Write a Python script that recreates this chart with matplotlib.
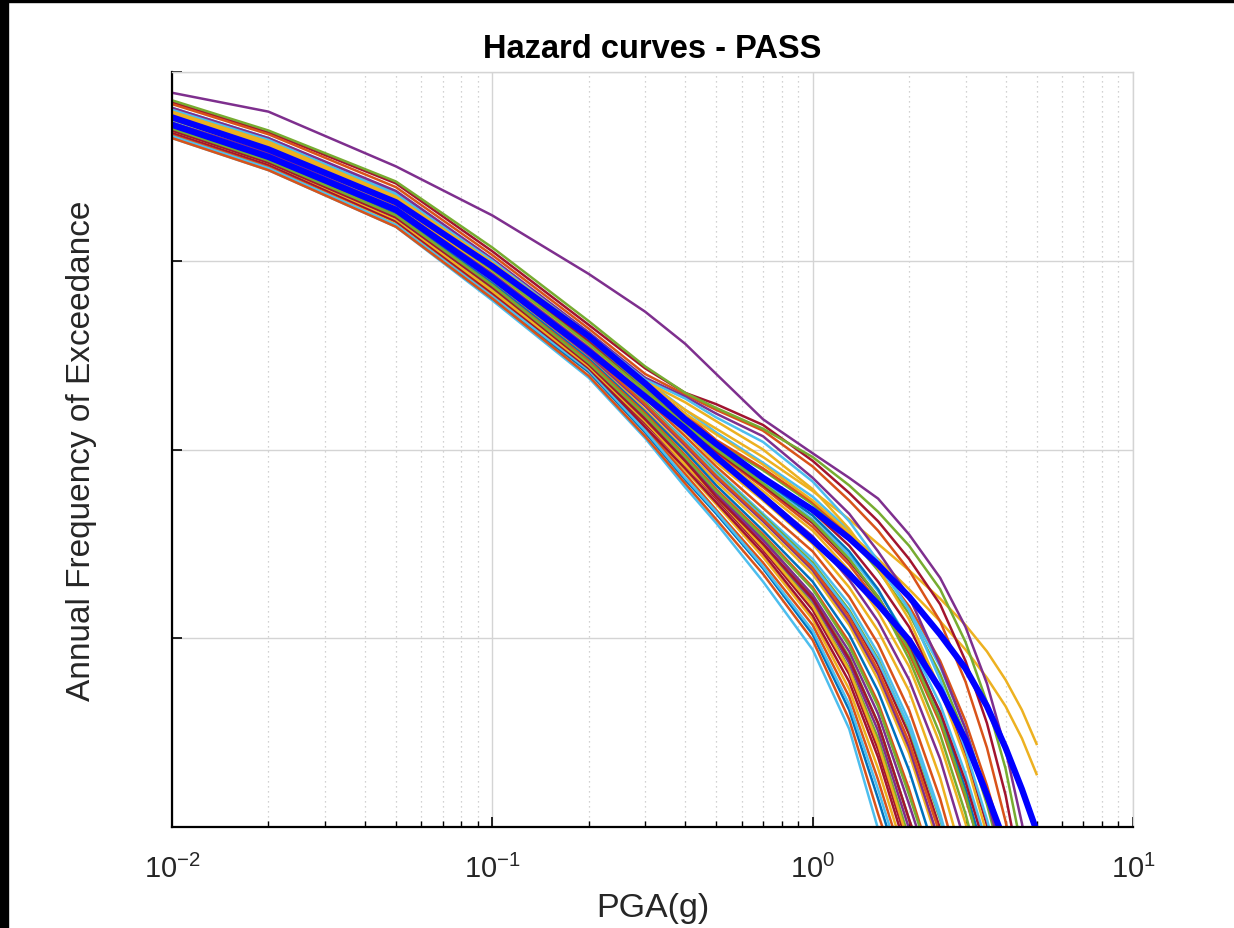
import numpy as np
import matplotlib
matplotlib.use("Agg")
import matplotlib.pyplot as plt
from matplotlib.patches import Rectangle
from matplotlib.ticker import NullLocator, LogLocator

plt.rcParams['font.family'] = ['Liberation Sans', 'DejaVu Sans']
plt.rcParams['mathtext.default'] = 'regular'

# PGA grid (g)
pga = [0.01, 0.02, 0.05, 0.1, 0.2, 0.3, 0.4, 0.5, 0.7, 1.0, 1.3, 1.6, 2.0, 2.5, 3.0, 3.5, 4.0, 4.5, 5.0]

# log10(annual frequency of exceedance) for each hazard curve
p_out = [-0.11, -0.21, -0.50, -0.76, -1.07, -1.27, -1.44, -1.60, -1.84, -2.02, -2.15, -2.26, -2.45, -2.68, -2.94, -3.24, -3.59, -3.98, -4.41]
k1 = [-0.16, -0.32, -0.59, -0.95, -1.34, -1.57, -1.70, -1.76, -1.87, -2.06, -2.23, -2.38, -2.58, -2.82, -3.12, -3.45, -3.83, -4.28]
k2 = [-0.17, -0.33, -0.61, -0.97, -1.36, -1.60, -1.71, -1.79, -1.90, -2.09, -2.27, -2.43, -2.64, -2.91, -3.23, -3.58, -3.97, -4.38]
k3 = [-0.15, -0.31, -0.58, -0.93, -1.32, -1.56, -1.70, -1.78, -1.89, -2.04, -2.19, -2.33, -2.51, -2.74, -3.02, -3.34, -3.69, -4.12]
k4 = [-0.19, -0.35, -0.63, -0.99, -1.38, -1.62, -1.72, -1.81, -1.93, -2.15, -2.34, -2.54, -2.78, -3.14, -3.48, -3.85, -4.22]
k5 = [-0.20, -0.36, -0.65, -1.00, -1.39, -1.63, -1.73, -1.83, -1.96, -2.17, -2.38, -2.59, -2.85, -3.22, -3.59, -3.96, -4.33]
k6 = [-0.21, -0.37, -0.66, -1.01, -1.39, -1.64, -1.75, -1.85, -2.00, -2.21, -2.42, -2.63, -2.90, -3.27, -3.64, -4.04]
y1 = [-0.21, -0.38, -0.66, -1.02, -1.40, -1.64, -1.79, -1.89, -2.04, -2.22, -2.37, -2.50, -2.64, -2.79, -2.93, -3.07, -3.22, -3.38, -3.56]
y2 = [-0.22, -0.39, -0.67, -1.03, -1.41, -1.66, -1.81, -1.92, -2.08, -2.27, -2.44, -2.58, -2.74, -2.91, -3.06, -3.21, -3.36, -3.53, -3.72]
u1 = [-0.22, -0.38, -0.67, -1.02, -1.40, -1.66, -1.83, -1.96, -2.11, -2.29, -2.46, -2.64, -2.87, -3.19, -3.52, -3.88, -4.25]
u2 = [-0.23, -0.39, -0.68, -1.03, -1.42, -1.67, -1.84, -1.98, -2.15, -2.33, -2.51, -2.70, -2.94, -3.27, -3.61, -3.99, -4.38]
u3 = [-0.24, -0.40, -0.69, -1.04, -1.43, -1.69, -1.86, -2.00, -2.17, -2.37, -2.56, -2.75, -3.01, -3.35, -3.72, -4.09]
u4 = [-0.25, -0.41, -0.70, -1.05, -1.44, -1.70, -1.88, -2.02, -2.20, -2.41, -2.61, -2.81, -3.08, -3.45, -3.85, -4.22]
u5 = [-0.23, -0.40, -0.68, -1.04, -1.42, -1.67, -1.84, -1.98, -2.16, -2.35, -2.54, -2.74, -3.03, -3.40, -3.80, -4.20]
u6 = [-0.25, -0.42, -0.70, -1.06, -1.45, -1.70, -1.88, -2.03, -2.22, -2.43, -2.64, -2.86, -3.15, -3.56, -3.98, -4.41]
u7 = [-0.27, -0.43, -0.72, -1.07, -1.46, -1.71, -1.89, -2.05, -2.24, -2.46, -2.69, -2.91, -3.22, -3.64, -4.09]
u8 = [-0.24, -0.41, -0.69, -1.04, -1.43, -1.68, -1.86, -1.99, -2.18, -2.38, -2.58, -2.79, -3.11, -3.51, -3.93, -4.36]
u9 = [-0.20, -0.37, -0.65, -1.01, -1.39, -1.65, -1.81, -1.95, -2.10, -2.28, -2.45, -2.62, -2.83, -3.12, -3.44, -3.78, -4.12]
u10 = [-0.22, -0.39, -0.67, -1.03, -1.43, -1.69, -1.87, -2.01, -2.19, -2.39, -2.59, -2.78, -3.05, -3.39, -3.76, -4.14]
u11 = [-0.24, -0.40, -0.69, -1.05, -1.44, -1.69, -1.87, -2.00, -2.18, -2.38, -2.58, -2.78, -3.06, -3.43, -3.83, -4.25]
u12 = [-0.19, -0.35, -0.64, -1.00, -1.38, -1.63, -1.79, -1.91, -2.07, -2.25, -2.43, -2.61, -2.85, -3.15, -3.48, -3.83, -4.18]
m1 = [-0.26, -0.42, -0.71, -1.07, -1.47, -1.73, -1.93, -2.09, -2.31, -2.54, -2.78, -3.03, -3.38, -3.85, -4.33]
m2 = [-0.27, -0.43, -0.72, -1.08, -1.48, -1.75, -1.95, -2.11, -2.34, -2.58, -2.82, -3.08, -3.44, -3.93, -4.41]
m3 = [-0.28, -0.45, -0.73, -1.10, -1.49, -1.76, -1.97, -2.14, -2.36, -2.62, -2.87, -3.14, -3.51, -4.01]
m4 = [-0.28, -0.44, -0.73, -1.09, -1.49, -1.75, -1.96, -2.12, -2.35, -2.60, -2.85, -3.11, -3.48, -3.96, -4.43]
m5 = [-0.29, -0.45, -0.74, -1.11, -1.51, -1.79, -2.00, -2.17, -2.40, -2.66, -2.93, -3.22, -3.61, -4.12]
m6 = [-0.29, -0.46, -0.75, -1.12, -1.52, -1.80, -2.01, -2.19, -2.43, -2.70, -2.98, -3.28, -3.70, -4.22]
m7 = [-0.30, -0.47, -0.76, -1.13, -1.53, -1.81, -2.03, -2.21, -2.45, -2.73, -3.02, -3.34, -3.80, -4.33]
m8 = [-0.30, -0.47, -0.77, -1.14, -1.54, -1.83, -2.05, -2.23, -2.48, -2.77, -3.07, -3.40, -3.88, -4.38]
m9 = [-0.31, -0.48, -0.77, -1.14, -1.55, -1.84, -2.06, -2.25, -2.50, -2.79, -3.11, -3.45, -3.96, -4.43]
m10 = [-0.26, -0.43, -0.72, -1.08, -1.48, -1.76, -1.96, -2.13, -2.36, -2.61, -2.86, -3.12, -3.47, -3.95, -4.43]
m11 = [-0.25, -0.42, -0.70, -1.07, -1.46, -1.72, -1.91, -2.07, -2.27, -2.50, -2.73, -2.96, -3.28, -3.74, -4.22]
m12 = [-0.28, -0.45, -0.74, -1.10, -1.50, -1.77, -1.98, -2.15, -2.38, -2.64, -2.91, -3.19, -3.58, -4.09]
m13 = [-0.30, -0.47, -0.76, -1.13, -1.54, -1.82, -2.04, -2.22, -2.46, -2.74, -3.04, -3.36, -3.83, -4.33]
m14 = [-0.27, -0.43, -0.73, -1.09, -1.49, -1.76, -1.97, -2.14, -2.37, -2.63, -2.89, -3.17, -3.55, -4.04]
l1 = [-0.35, -0.52, -0.82, -1.21, -1.62, -1.94, -2.20, -2.39, -2.70, -3.06, -3.48, -4.01]
l2 = [-0.34, -0.51, -0.81, -1.20, -1.59, -1.91, -2.16, -2.34, -2.63, -2.98, -3.38, -3.85, -4.38]
l3 = [-0.33, -0.50, -0.80, -1.18, -1.57, -1.88, -2.11, -2.29, -2.57, -2.90, -3.27, -3.69, -4.22]
l4 = [-0.32, -0.49, -0.79, -1.17, -1.56, -1.86, -2.08, -2.26, -2.53, -2.85, -3.19, -3.59, -4.12]
l5 = [-0.32, -0.49, -0.78, -1.16, -1.56, -1.85, -2.07, -2.25, -2.51, -2.82, -3.16, -3.53, -4.06]
l6 = [-0.33, -0.50, -0.79, -1.18, -1.58, -1.89, -2.13, -2.32, -2.60, -2.93, -3.31, -3.75, -4.28]
l7 = [-0.34, -0.51, -0.81, -1.19, -1.58, -1.90, -2.15, -2.33, -2.62, -2.96, -3.35, -3.80, -4.33]
l8 = [-0.31, -0.48, -0.78, -1.16, -1.55, -1.84, -2.06, -2.24, -2.50, -2.80, -3.13, -3.49, -4.01]
l9 = [-0.32, -0.49, -0.79, -1.17, -1.57, -1.88, -2.10, -2.28, -2.55, -2.88, -3.23, -3.63, -4.17]
l10 = [-0.31, -0.48, -0.77, -1.15, -1.55, -1.83, -2.05, -2.22, -2.47, -2.78, -3.10, -3.45, -3.96, -4.43]
l11 = [-0.35, -0.52, -0.82, -1.20, -1.61, -1.93, -2.18, -2.37, -2.66, -3.01, -3.43, -3.93, -4.43]
l12 = [-0.31, -0.48, -0.78, -1.16, -1.56, -1.85, -2.08, -2.25, -2.52, -2.83, -3.17, -3.56, -4.09]
# highlighted curves (thick blue)
blue_a = [-0.24, -0.41, -0.69, -1.03, -1.40, -1.65, -1.84, -1.97, -2.15, -2.32, -2.47, -2.61, -2.78, -2.98, -3.16, -3.36, -3.58, -3.80, -4.02]
blue_b = [-0.28, -0.45, -0.73, -1.09, -1.48, -1.72, -1.89, -2.04, -2.25, -2.48, -2.66, -2.82, -3.01, -3.27, -3.54, -3.83, -4.09]

xtick_vals = [0.01, 0.1, 1, 10]
xtick_labels = [r'$10^{-2}$', r'$10^{-1}$', r'$10^{0}$', r'$10^{1}$']

# MATLAB default line colours
C_B, C_O, C_Y, C_P, C_G, C_C, C_R = '#0072BD', '#D95319', '#EDB120', '#7E2F8E', '#77AC30', '#4DBEEE', '#A2142F'

thin = [
    (l1, C_C), (l2, C_B), (l3, C_Y), (l4, C_R), (l5, C_G), (l6, C_O), (l7, C_C), (l8, C_P),
    (l9, C_R), (l10, C_G), (l11, C_O), (l12, C_Y),
    (m1, C_O), (m2, C_C), (m3, C_R), (m4, C_G), (m5, C_Y), (m6, C_B), (m7, C_O), (m8, C_P), (m9, C_R), (m10, C_C),
    (m11, C_Y), (m12, C_P), (m13, C_G), (m14, C_O),
    (u1, C_G), (u2, C_R), (u3, C_C), (u4, C_O), (u5, C_B), (u6, C_Y), (u7, C_P), (u8, C_G),
    (u9, C_O), (u10, C_R), (u11, C_G), (u12, C_C),
    (y1, C_Y), (y2, C_Y),
    (k1, C_R), (k2, C_O), (k3, C_G), (k4, C_P), (k5, C_C), (k6, C_Y),
    (p_out, C_P),
]

W, H = 1234, 929
fig = plt.figure(figsize=(W / 100, H / 100), dpi=100)
ax = fig.add_axes([172 / W, (H - 828) / H, (1133 - 172) / W, (828 - 73) / H])

for vals, col in thin:
    ax.plot(pga[:len(vals)], 10 ** np.array(vals), color=col, lw=1.8, solid_joinstyle='round')
for vals in (blue_b, blue_a):
    ax.plot(pga[:len(vals)], 10 ** np.array(vals), color='#0000FF', lw=4.5, solid_joinstyle='round')

ax.set_xscale('log')
ax.set_yscale('log')
ax.set_xlim(0.01, 10)
ax.set_ylim(1e-4, 1)

ax.set_xticks(xtick_vals)
ax.set_xticklabels(xtick_labels)
ax.xaxis.set_minor_locator(LogLocator(base=10, subs=np.arange(2, 10), numticks=20))
ax.set_yticks([1e-4, 1e-3, 1e-2, 1e-1, 1])
ax.set_yticklabels([])
ax.yaxis.set_minor_locator(NullLocator())

ax.tick_params(axis='both', which='major', direction='in', length=7, width=1.2, color='black',
               labelsize=21, pad=19, labelcolor='#262626')
ax.tick_params(axis='x', which='minor', direction='in', length=4, width=1.0, color='black')
ax.tick_params(top=False, right=False, which='both')

ax.grid(True, which='major', axis='both', color='#d4d4d4', lw=1.0, ls='-')
ax.grid(True, which='minor', axis='x', color='#c4c4c4', lw=0.9, ls=(0, (1, 3)))
ax.set_axisbelow(True)

for s in ('left', 'bottom'):
    ax.spines[s].set_color('black')
    ax.spines[s].set_linewidth(1.6)
for s in ('top', 'right'):
    ax.spines[s].set_color('#d4d4d4')
    ax.spines[s].set_linewidth(1.0)

ax.set_title('Hazard curves - PASS', fontsize=23.5, fontweight='bold', pad=11)
ax.set_xlabel('PGA(g)', fontsize=24.5, color='#262626')
ax.xaxis.set_label_coords(0.5, -0.086)
ax.set_ylabel('Annual Frequency of Exceedance', fontsize=24, color='#262626')
ax.yaxis.set_label_coords(-0.078, 0.5)

# black frame strips at the image top and left edge
fig.add_artist(Rectangle((0, 0), 8 / W, 1, transform=fig.transFigure, color='black', zorder=10))
fig.add_artist(Rectangle((0, 1 - 3 / H), 1, 3 / H, transform=fig.transFigure, color='black', zorder=10))

fig.savefig('out.png', dpi=100)
